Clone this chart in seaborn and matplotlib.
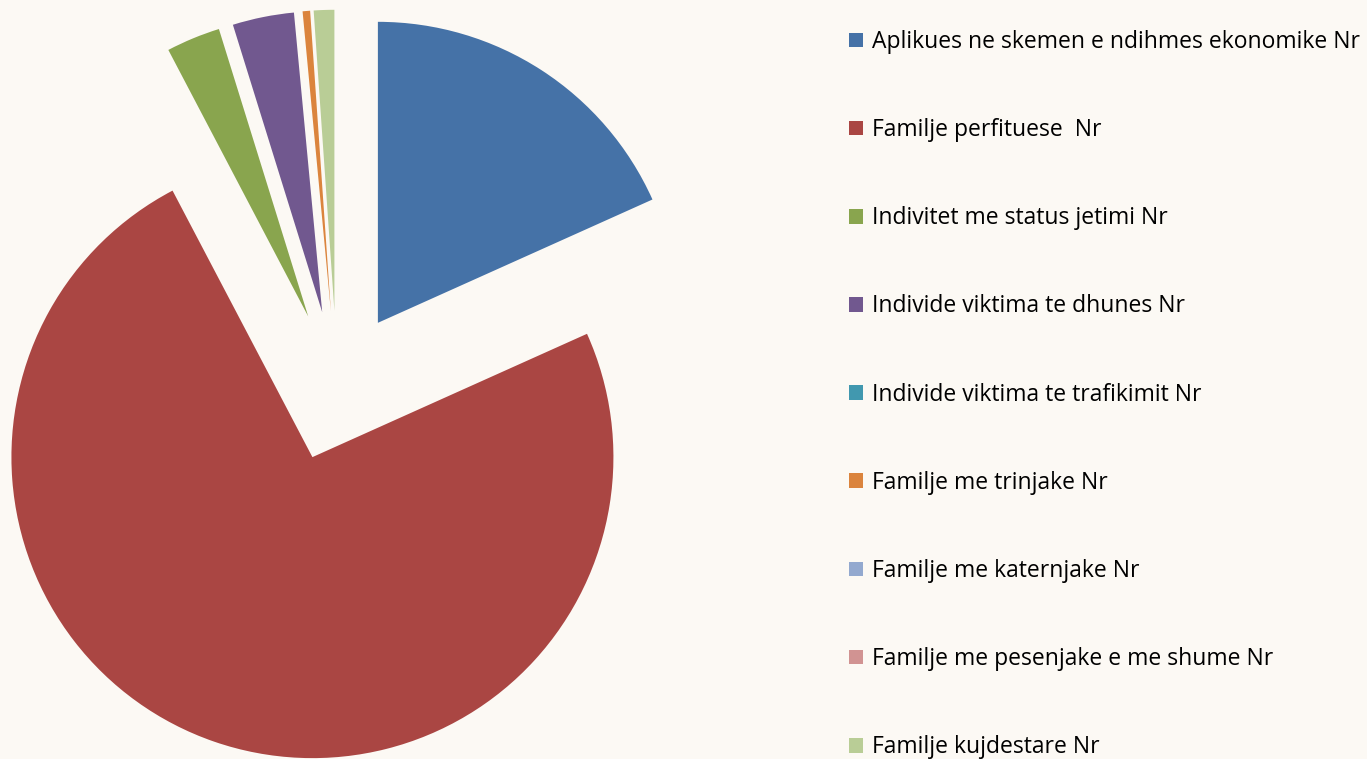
import seaborn as sns
import numpy as np
import matplotlib.pyplot as plt

# categories and counts (zero slices stay in the legend)
labels = ['Aplikues ne skemen e ndihmes ekonomike Nr',
          'Familje perfituese  Nr',
          'Indivitet me status jetimi Nr',
          'Individe viktima te dhunes Nr',
          'Individe viktima te trafikimit Nr',
          'Familje me trinjake Nr',
          'Familje me katernjake Nr',
          'Familje me pesenjake e me shume Nr',
          'Familje kujdestare Nr']
values = [183, 741, 29, 33, 0, 4, 0, 0, 11]
colors = ['#4572A7', '#AA4643', '#89A54E', '#71588F', '#4198AF',
          '#DB843D', '#93A9CF', '#D19392', '#B9CD96']

sns.set_style('white')
plt.rcParams['font.family'] = ['Open Sans', 'DejaVu Sans']
bg = '#FCF9F4'

fig = plt.figure(figsize=(13.67, 7.59), dpi=100, facecolor=bg)
ax = fig.add_axes([0, 0, 1, 1])
ax.set_facecolor(bg)

pal = sns.color_palette(colors)
wedges, _ = ax.pie(values, colors=pal, startangle=90, counterclock=False,
                   explode=[0.25] * len(values), radius=1,
                   wedgeprops=dict(linewidth=0))

# place pie: centre at (337, 386) px, radius 301 px
s = 301.0
ax.set_xlim(-337 / s, (1367 - 337) / s)
ax.set_ylim(-(759 - 386) / s, 386 / s)
ax.set_aspect('equal')
ax.axis('off')

fig.legend(wedges, labels, loc='upper left', bbox_to_anchor=(849 / 1367, 1 - 30 / 759),
           frameon=False, fontsize=16.5, labelspacing=2.8, handlelength=0.6,
           handleheight=0.6, handletextpad=0.4, borderpad=0, borderaxespad=0,
           labelcolor='black')

fig.savefig('out.png', dpi=100, facecolor=bg)
